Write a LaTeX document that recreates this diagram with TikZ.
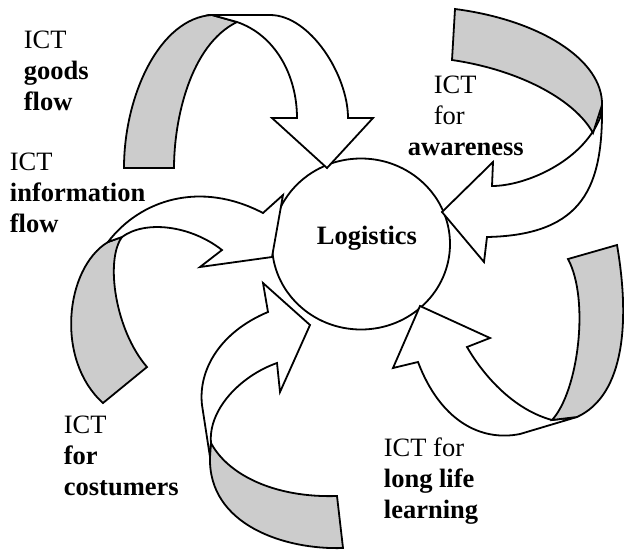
\documentclass[tikz,border=0pt]{standalone}
\usepackage{fontspec}
\setmainfont{Liberation Serif}
\usetikzlibrary{shapes.geometric}
\begin{document}
\begin{tikzpicture}[x=1pt,y=-1pt,line width=1.8pt,
  back/.style={draw,fill=gray!40},
  front/.style={draw,fill=white},
  txt/.style={align=left,anchor=base west,inner sep=0pt,font=\fontsize{26.5}{31}\selectfont}]
\useasboundingbox (0,0) rectangle (624,550);
\node[draw,ellipse,fill=white,minimum width=178pt,minimum height=171pt,inner sep=0pt](logistics) at (361,244){};
\path[back] (124,168) -- (174,168) .. controls (174,120) and (190,45) .. (237,22) -- (212,15) .. controls (160,18) and (124,95) .. (124,168) -- cycle;
\path[front] (212,15) -- (270,15) .. controls (310,15) and (348,75) .. (348,118) -- (373,118) -- (327,168) -- (272,118) -- (297,118) .. controls (297,75) and (275,35) .. (237,22) -- cycle;
\path[front] (602,105) .. controls (603,185) and (585,235) .. (487,237) -- (484,262) -- (442,212) -- (493,162) -- (492,186) .. controls (525,186) and (582,162) .. (600,118) -- cycle;
\path[back] (455,9) -- (452,60) .. controls (520,70) and (575,100) .. (593,133) -- (602,105) .. controls (603,60) and (540,20) .. (455,9) -- cycle;
\path[back] (108,242) .. controls (65,268) and (55,360) .. (103,403) -- (147,367) .. controls (115,330) and (105,260) .. (122,237) -- cycle;
\path[front] (108,242) .. controls (140,200) and (200,180) .. (263,213) -- (283,195) -- (272,257) -- (200,267) -- (222,250) .. controls (190,225) and (145,220) .. (122,237) -- cycle;
\path[front] (268,312) .. controls (220,332) and (198,370) .. (202,405) -- (210,457) -- (211,443) .. controls (208,410) and (240,376) .. (277,363) -- (280,392) -- (310,325) -- (263,283) -- cycle;
\path[back] (211,443) .. controls (228,475) and (275,498) .. (337,496) -- (343,548) .. controls (285,550) and (208,525) .. (210,457) -- cycle;
\path[front] (490,338) -- (467,347) .. controls (485,378) and (515,410) .. (552,420) -- (577,417) -- (520,434) .. controls (480,442) and (440,420) .. (418,362) -- (393,368) -- (420,306) -- cycle;
\path[back] (568,259) -- (617,245) .. controls (630,320) and (625,395) .. (577,417) -- (552,420) .. controls (578,392) and (590,300) .. (568,259) -- cycle;
\node[txt] (logisticstext) at (316,244) {\textbf{Logistics}};
\node[txt] (goods) at (23,110) {ICT\\\textbf{goods}\\\textbf{flow}};
\node[txt] (information) at (9,232) {ICT\\\textbf{information}\\\textbf{flow}};
\node[txt] (awareness) at (407,155) {\hspace*{26pt}ICT\\\hspace*{26pt}for\\\textbf{awareness}};
\node[txt] (costumers) at (63,495) {ICT\\\textbf{for}\\\textbf{costumers}};
\node[txt] (learning) at (383,518) {ICT for\\\textbf{long life}\\\textbf{learning}};
\end{tikzpicture}
\end{document}
